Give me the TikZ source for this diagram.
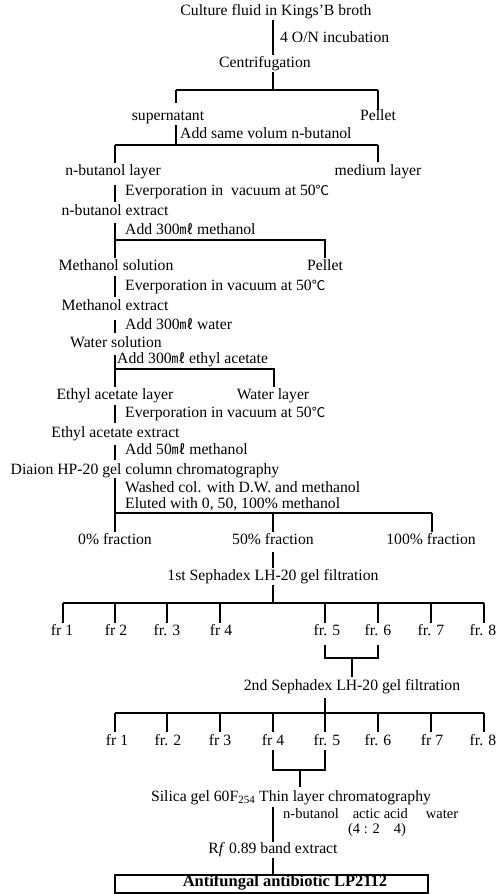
\documentclass[tikz,border=0pt]{standalone}
\usepackage{fontspec}
\setmainfont{Liberation Serif}
\newfontfamily\cjkfont{Noto Sans CJK KR}
\newcommand{\degC}{{\cjkfont\fontsize{13.5}{14}\selectfont ℃}}
\newcommand{\mlu}{{\cjkfont\fontsize{13.5}{14}\selectfont ㎖}}
\begin{document}
\begin{tikzpicture}[x=1pt,y=-1pt,
  lbl/.style={inner sep=0pt, font=\fontsize{15.7}{16}\selectfont, text height=0.7em, text depth=0.2em},
  lw/.style={lbl, anchor=west},
  small/.style={inner sep=0pt, font=\fontsize{14.5}{15}\selectfont, text height=0.6em, text depth=0.1em},
  ln/.style={line width=1.1pt},
  bar/.style={line width=1.6pt}]
\useasboundingbox (0,0) rectangle (503,894);

% --- top
\node[lbl] (culture) at (276,13) {Culture fluid in Kings’B broth};
\coordinate (a1) at (273,20); \coordinate (a2) at (273,55);
\draw[ln] (a1) -- (a2);
\node[lw] (inc) at (280,40) {4 O/N incubation};
\node[lbl] (centri) at (265,65) {Centrifugation};
\coordinate (b1) at (273,72); \coordinate (b2) at (273,90);
\coordinate (bl) at (176,90); \coordinate (br) at (378,90);
\coordinate (bld) at (176,103); \coordinate (brd) at (378,110);
\draw[ln] (b1) -- (b2);
\draw[bar] (bl) -- (br);
\draw[ln] (bl) -- (bld);
\draw[ln] (br) -- (brd);
\node[lbl] (super) at (168,118) {supernatant};
\node[lbl] (pellet1) at (378,118) {Pellet};

\coordinate (c1) at (176,125); \coordinate (c2) at (176,145);
\draw[ln] (c1) -- (c2);
\node[lw] (addbut) at (180,136) {Add same volum n-butanol};
\coordinate (cl) at (115,145); \coordinate (cr) at (378,145);
\coordinate (cld) at (115,163); \coordinate (crd) at (378,162);
\draw[bar] (cl) -- (cr);
\draw[ln] (cl) -- (cld);
\draw[ln] (cr) -- (crd);
\node[lbl] (nbl) at (113,173) {n-butanol layer};
\node[lbl] (medl) at (378,173) {medium layer};

\coordinate (d1) at (115,185); \coordinate (d2) at (115,202);
\draw[ln] (d1) -- (d2);
\node[lw] (ev1) at (125,193) {Everporation in\enspace vacuum at 50\degC};
\node[lbl] (nbe) at (115,213) {n-butanol extract};

\coordinate (e1) at (115,223); \coordinate (e2) at (115,258);
\draw[ln] (e1) -- (e2);
\node[lw] (addme) at (125,232) {Add 300\mlu\ methanol};
\coordinate (el) at (115,240); \coordinate (er) at (325,240); \coordinate (erd) at (325,258);
\draw[ln] (el) -- (er) -- (erd);
\node[lbl] (mesol) at (116,268) {Methanol solution};
\node[lbl] (pellet2) at (325,268) {Pellet};

\coordinate (f1) at (115,276); \coordinate (f2) at (115,297);
\draw[ln] (f1) -- (f2);
\node[lw] (ev2) at (125,288) {Everporation in vacuum at 50\degC};
\node[lbl] (meext) at (115,308) {Methanol extract};

\coordinate (g1) at (115,320); \coordinate (g2) at (115,333);
\draw[ln] (g1) -- (g2);
\node[lw] (addw) at (125,327) {Add 300\mlu\ water};
\node[lbl] (wsol) at (116,345) {Water solution};

\coordinate (h1) at (115,355); \coordinate (h2) at (115,387);
\draw[ln] (h1) -- (h2);
\node[lw] (addea) at (117,361) {Add 300\mlu\ ethyl acetate};
\coordinate (hl) at (115,369); \coordinate (hr) at (274,369); \coordinate (hrd) at (274,387);
\draw[ln] (hl) -- (hr) -- (hrd);
\node[lbl] (eal) at (115,397) {Ethyl acetate layer};
\node[lbl] (wl) at (273,397) {Water layer};

\coordinate (i1) at (115,405); \coordinate (i2) at (115,423);
\draw[ln] (i1) -- (i2);
\node[lw] (ev3) at (125,415) {Everporation in vacuum at 50\degC};
\node[lbl] (eaext) at (115.5,435) {Ethyl acetate extract};

\coordinate (j1) at (115,445); \coordinate (j2) at (115,460);
\draw[ln] (j1) -- (j2);
\node[lw] (add50) at (125,452) {Add 50\mlu\ methanol};
\node[lbl] (diaion) at (145,472) {Diaion HP-20 gel column chromatography};

\coordinate (k1) at (115,478); \coordinate (k2) at (115,532);
\draw[ln] (k1) -- (k2);
\node[lw] (wash) at (125,490) {Washed col. with D.W. and methanol};
\node[lw] (elut) at (125,506) {Eluted with 0, 50, 100\% methanol};
\coordinate (kl) at (115,513); \coordinate (km) at (273,513); \coordinate (kr) at (432,513);
\coordinate (kmd) at (273,532); \coordinate (krd) at (432,532);
\draw[bar] (kl) -- (kr);
\draw[ln] (km) -- (kmd);
\draw[ln] (kr) -- (krd);
\node[lbl] (f0) at (115,542) {0\% fraction};
\node[lbl] (f50) at (273,542) {50\% fraction};
\node[lbl] (f100) at (431,542) {100\% fraction};

\coordinate (l1) at (273,552); \coordinate (l2) at (273,568);
\draw[ln] (l1) -- (l2);
\node[lbl] (seph1) at (273,578) {1st Sephadex LH-20 gel filtration};
\coordinate (m1) at (273,585); \coordinate (m2) at (273,603);
\draw[ln] (m1) -- (m2);
\coordinate (ml) at (63,603); \coordinate (mr) at (484,603);
\draw[bar] (ml) -- (mr);
\foreach \x/\n in {63/1,115/2,167/3,220/4,325/5,378/6,431/7,484/8}{
  \coordinate (mt\n) at (\x,603); \coordinate (mb\n) at (\x,623);
  \draw[ln] (mt\n) -- (mb\n);
}
\node[lbl] (p1) at (62,633) {fr 1};
\node[lbl] (p2) at (116,633) {fr 2};
\node[lbl] (p3) at (167,633) {fr. 3};
\node[lbl] (p4) at (221,633) {fr 4};
\node[lbl] (p5) at (327,633) {fr. 5};
\node[lbl] (p6) at (378,633) {fr. 6};
\node[lbl] (p7) at (431,633) {fr. 7};
\node[lbl] (p8) at (483,633) {fr. 8};

\coordinate (n5) at (325,645); \coordinate (n6) at (378,645);
\coordinate (n5b) at (325,658); \coordinate (n6b) at (378,658);
\coordinate (nm) at (352,658); \coordinate (nmb) at (352,677);
\draw[ln] (n5) -- (n5b) -- (n6b) -- (n6);
\draw[ln] (nm) -- (nmb);
\node[lbl] (seph2) at (352,688) {2nd Sephadex LH-20 gel filtration};

\coordinate (o1) at (325,698); \coordinate (o2) at (325,713);
\draw[ln] (o1) -- (o2);
\coordinate (ol) at (115,713); \coordinate (or) at (484,713);
\draw[bar] (ol) -- (or);
\foreach \x/\n in {115/1,167/2,220/3,273/4,325/5,378/6,431/7,484/8}{
  \coordinate (ot\n) at (\x,713); \coordinate (ob\n) at (\x,732);
  \draw[ln] (ot\n) -- (ob\n);
}
\node[lbl] (q1) at (117,743) {fr 1};
\node[lbl] (q2) at (168,743) {fr. 2};
\node[lbl] (q3) at (220,743) {fr 3};
\node[lbl] (q4) at (273,743) {fr 4};
\node[lbl] (q5) at (327,743) {fr. 5};
\node[lbl] (q6) at (378,743) {fr. 6};
\node[lbl] (q7) at (432,743) {fr 7};
\node[lbl] (q8) at (483,743) {fr. 8};

\coordinate (r4) at (273,750); \coordinate (r5) at (325,750);
\coordinate (r4b) at (273,770); \coordinate (r5b) at (325,770);
\coordinate (rm) at (300,770); \coordinate (rmb) at (300,787);
\draw[ln] (r4) -- (r4b) -- (r5b) -- (r5);
\draw[ln] (rm) -- (rmb);
\node[lbl] (silica) at (291,799) {Silica gel 60F\textsubscript{254} Thin layer chromatography};

\coordinate (s1) at (273,807); \coordinate (s2) at (273,842);
\draw[ln] (s1) -- (s2);
\node[small, anchor=west] (solv) at (283,816) {n-butanol\hspace{14pt}actic acid\hspace{18pt}water};
\node[small] (ratio) at (377,831) {(4 : 2\hspace{14pt}4)};
\node[lbl] (rf) at (273,851) {R\textit{f} 0.89 band extract};

\coordinate (t1) at (273,858); \coordinate (t2) at (273,875);
\draw[ln] (t1) -- (t2);
\node[draw, line width=1.4pt, minimum width=313pt, minimum height=18pt, inner sep=0pt] (box) at (271.5,884) {};
\node[lbl, font=\fontsize{16.5}{17}\selectfont\bfseries] (final) at (285,884) {Antifungal antibiotic LP2112};
\end{tikzpicture}
\end{document}
